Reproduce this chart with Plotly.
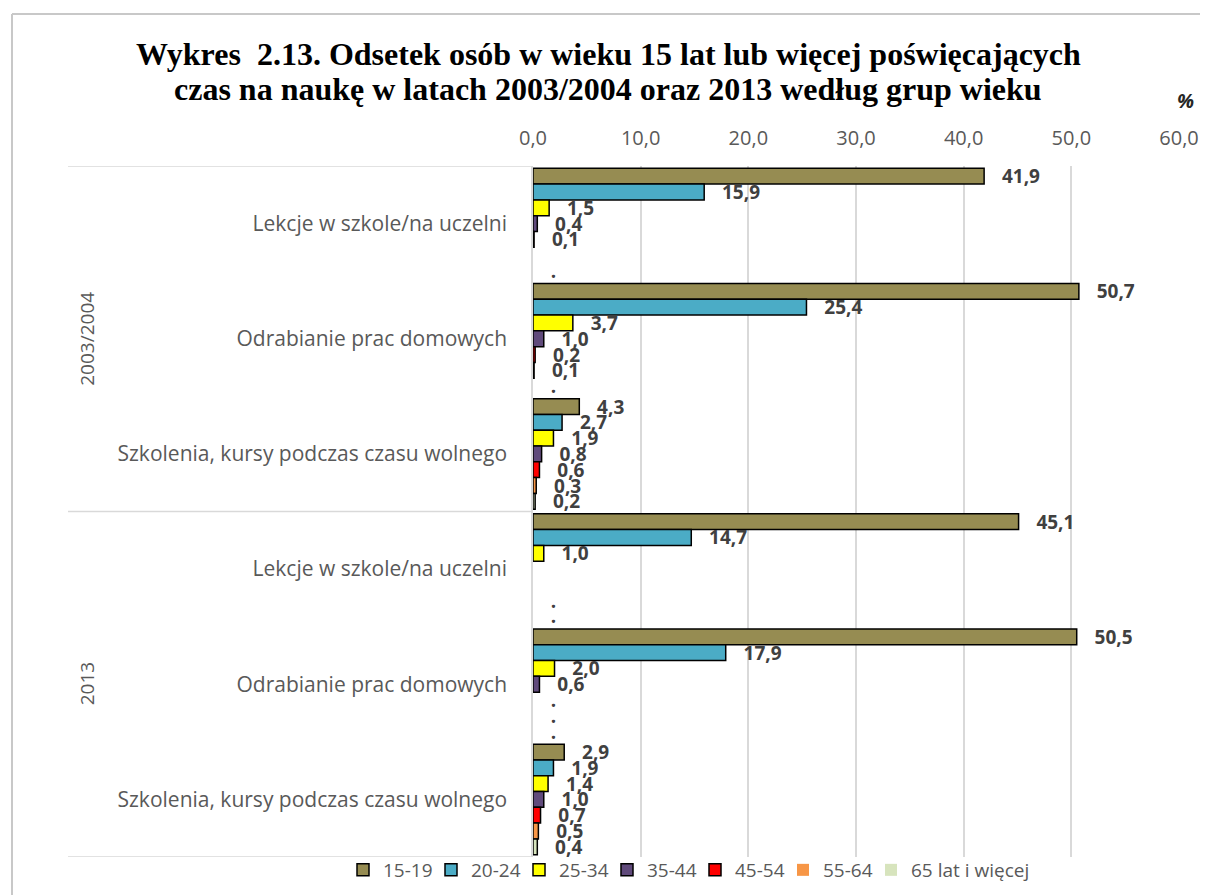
import plotly.graph_objects as go

years = ["2003/2004", "2013"]
activities = ["Lekcje w szkole/na uczelni", "Odrabianie prac domowych",
              "Szkolenia, kursy podczas czasu wolnego"]
age_groups = ["15-19", "20-24", "25-34", "35-44", "45-54", "55-64", "65 lat i więcej"]

# rows: 2003/2004 (3 activities), then 2013 (3 activities)
# "." = data shown as a dot label, None = nothing shown
v_15_19 = [41.9, 50.7, 4.3, 45.1, 50.5, 2.9]
v_20_24 = [15.9, 25.4, 2.7, 14.7, 17.9, 1.9]
v_25_34 = [1.5, 3.7, 1.9, 1.0, 2.0, 1.4]
v_35_44 = [0.4, 1.0, 0.8, None, 0.6, 1.0]
v_45_54 = [0.1, 0.2, 0.6, None, ".", 0.7]
v_55_64 = [None, 0.1, 0.3, ".", ".", 0.5]
v_65 = [".", ".", 0.2, ".", ".", 0.4]

series = [v_15_19, v_20_24, v_25_34, v_35_44, v_45_54, v_55_64, v_65]
colors = ["#968C52", "#4BACC6", "#FFFF00", "#604A7B", "#FF0000", "#F79646", "#D7E4BD"]

x_ticks = [0, 10, 20, 30, 40, 50, 60]

title_lines = ["Wykres \u00a02.13. Odsetek osób w wieku 15 lat lub więcej poświęcających",
               "czas na naukę w latach 2003/2004 oraz 2013 według grup wieku"]

rows = list(range(len(years) * len(activities)))
row_labels = activities * len(years)

W, H = 1208, 895
L, T = 525, 158
PW, PH = 646, 691
R, B = W - L - PW, H - T - PH


def px_x(x):
    return (x - L) / PW


def px_y(y):
    return (H - B - y) / PH


LABEL_FONT = "Open Sans"
PAD = "\u00a0\u00a0\u00a0"

LEG_X0, LEG_STEP, LEG_Y = 335, 88, 862
legend_ids = ["legend" if i == 0 else f"legend{i + 1}" for i in range(len(age_groups))]

fig = go.Figure()
for k, (name, vals, col) in enumerate(zip(age_groups, series, colors)):
    xs, txt, lw = [], [], []
    for v in vals:
        if isinstance(v, (int, float)):
            xs.append(v)
            txt.append(PAD + f"{v:.1f}".replace(".", ","))
            lw.append(1.5)
        elif v == ".":
            xs.append(0)
            txt.append(PAD + ".")
            lw.append(0)
        else:
            xs.append(None)
            txt.append("")
            lw.append(0)
    fig.add_trace(go.Bar(
        name=name, y=rows, x=xs, orientation="h",
        marker=dict(color=col, line=dict(color="#000000", width=lw)),
        text=txt, textposition="outside", cliponaxis=False,
        constraintext="none",
        textfont=dict(family=LABEL_FONT, size=19, color="#404040", weight="bold"),
        hoverinfo="skip", legend=legend_ids[k],
    ))

# title (two lines)
for i, line in enumerate(title_lines):
    fig.add_annotation(x=px_x(600), xref="paper", y=px_y(46 + 35 * i), yref="paper",
                       text=f"<b>{line}</b>", showarrow=False, xanchor="center",
                       yanchor="middle",
                       font=dict(family="Liberation Serif", size=32, color="#000000"))

# year labels (rotated)
for i, yr in enumerate(years):
    mid = (len(activities) - 1) / 2 + i * len(activities)
    fig.add_annotation(x=px_x(64), xref="paper", y=mid, yref="y", text=yr,
                       textangle=-90, showarrow=False,
                       font=dict(family=LABEL_FONT, size=19, color="#595959"))

# group separator lines in label area
for b in [-0.5, 2.5, 5.5]:
    fig.add_shape(type="line", xref="paper", yref="y", x0=px_x(60), x1=0, y0=b, y1=b,
                  line=dict(color="#D9D9D9", width=1.5))

# chart border (top and left)
fig.add_shape(type="line", xref="paper", yref="paper", x0=px_x(4), x1=px_x(1215),
              y0=px_y(6), y1=px_y(6), line=dict(color="#C8C8C8", width=2))
fig.add_shape(type="line", xref="paper", yref="paper", x0=px_x(4), x1=px_x(4),
              y0=px_y(6), y1=px_y(900), line=dict(color="#C8C8C8", width=2))

fig.add_annotation(x=px_x(1188), xref="paper", y=px_y(77), yref="paper",
                   text="<b><i>%</i></b>", showarrow=False,
                   font=dict(family=LABEL_FONT, size=20, color="#262626"))

legend_layouts = {}
for k, lid in enumerate(legend_ids):
    legend_layouts[lid] = dict(
        orientation="h", xref="container", yref="container",
        x=(LEG_X0 + LEG_STEP * k) / W, xanchor="left",
        y=(H - LEG_Y) / H, yanchor="middle",
        font=dict(family=LABEL_FONT, size=19, color="#595959"),
        itemwidth=30, bgcolor="rgba(0,0,0,0)",
    )

fig.update_layout(
    width=W, height=H,
    margin=dict(l=L, r=R, t=T, b=B, autoexpand=False),
    paper_bgcolor="white", plot_bgcolor="white",
    separators=", ",
    barmode="group", bargap=0.04, bargroupgap=0,
    xaxis=dict(
        side="top", range=[0, 60], tickvals=x_ticks, tickformat=".1f",
        showgrid=True, gridcolor="#D9D9D9", gridwidth=1.5, zeroline=False,
        showline=False, ticks="", ticklabelstandoff=16,
        tickfont=dict(family=LABEL_FONT, size=20, color="#595959"),
        fixedrange=True,
    ),
    yaxis=dict(
        range=[5.5, -0.5], tickvals=rows, ticktext=row_labels,
        showgrid=False, zeroline=False, showline=True, linecolor="#D9D9D9", linewidth=1.5,
        ticks="", ticklabelstandoff=20,
        tickfont=dict(family=LABEL_FONT, size=21, color="#595959"),
        fixedrange=True,
    ),
    showlegend=True,
    **legend_layouts,
)

fig.write_html("out.html")
